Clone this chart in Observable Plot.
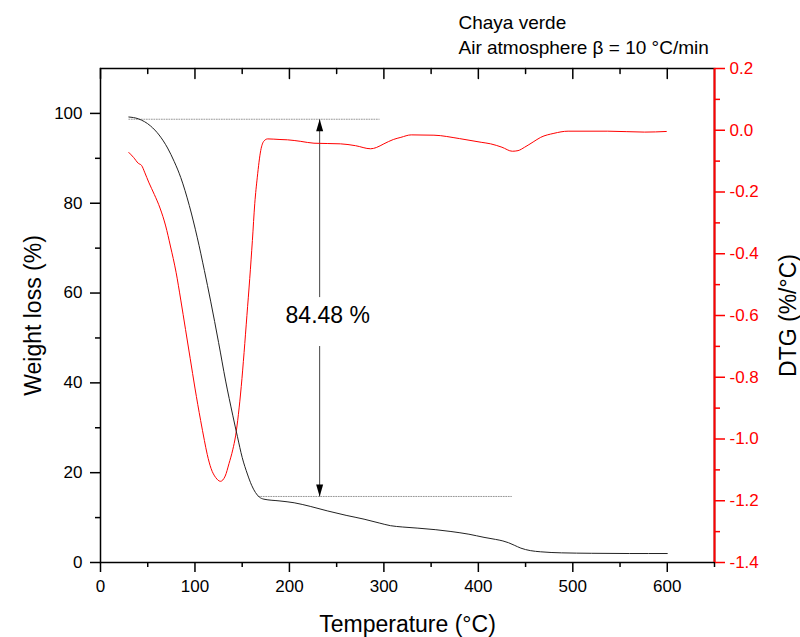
<!DOCTYPE html>
<html>
<head>
<meta charset="utf-8">
<script src="https://cdn.jsdelivr.net/npm/d3@7"></script>
<script src="https://cdn.jsdelivr.net/npm/@observablehq/plot@0.6"></script>
<style>
  html, body { margin: 0; padding: 0; background: #fff; }
  #chart svg { display: block; }
</style>
</head>
<body>
<div id="chart"></div>
<script>
// ---- Data ----
const titleLines = ["Chaya verde", "Air atmosphere \u03B2 = 10 \u00B0C/min"];
const xLabel = "Temperature (\u00B0C)";
const yLabel = "Weight loss (%)";
const y2Label = "DTG (%/\u00B0C)";

// TG curve (weight %, left axis)
const tgTemp   = [30, 40, 53, 62, 71, 78, 85, 94, 102.5, 110, 116.6, 125, 132.5, 140, 145, 150, 155.5, 160, 164, 168, 173, 190, 205, 222, 240, 260, 279, 295, 307, 320, 336, 355, 371, 390, 406, 418, 426, 432, 438, 445, 455, 466, 488, 520, 560, 600];
const tgWeight = [99.2, 98.8, 97.2, 95.2, 92.3, 89.3, 85.7, 79.5, 72.3, 65, 58.2, 49, 40.4, 32.8, 28, 23.4, 19.7, 17.2, 15.6, 14.6, 14.1, 13.7, 13.3, 12.5, 11.5, 10.5, 9.65, 8.8, 8.2, 7.9, 7.65, 7.3, 6.9, 6.3, 5.6, 5.15, 4.8, 4.4, 3.85, 3.2, 2.65, 2.38, 2.15, 2.05, 2.0, 2.0];

// DTG curve (%/°C, right axis)
const dtgTemp  = [30, 35, 40, 43.5, 47, 51, 57, 63, 69, 74, 80, 85, 90, 95, 100, 106, 110, 113, 117, 122, 127, 132, 136, 140, 143, 146, 149, 152, 155, 158, 160.8, 163.3, 166, 169.6, 173, 177, 190, 198, 212, 226, 254, 270, 286, 292, 300, 310, 318, 329, 353, 380, 403, 413, 425, 436, 442, 449, 458, 466, 480, 495, 537, 576, 599];
const dtgValue = [-0.072, -0.088, -0.107, -0.114, -0.138, -0.168, -0.208, -0.252, -0.31, -0.375, -0.46, -0.55, -0.645, -0.74, -0.835, -0.94, -1.005, -1.05, -1.095, -1.125, -1.137, -1.12, -1.08, -1.035, -0.99, -0.92, -0.83, -0.72, -0.6, -0.48, -0.357, -0.238, -0.152, -0.066, -0.035, -0.028, -0.03, -0.031, -0.036, -0.042, -0.044, -0.05, -0.06, -0.056, -0.044, -0.03, -0.023, -0.015, -0.016, -0.027, -0.039, -0.044, -0.055, -0.068, -0.066, -0.055, -0.038, -0.023, -0.01, -0.003, -0.003, -0.006, -0.004];

// Axis ticks
const xMajor = [0, 100, 200, 300, 400, 500, 600];
const xMinor = [50, 150, 250, 350, 450, 550, 650];
const yMajor = [0, 20, 40, 60, 80, 100];
const yMinor = [10, 30, 50, 70, 90];
const y2Major = [-1.4, -1.2, -1.0, -0.8, -0.6, -0.4, -0.2, 0.0, 0.2];
const y2Minor = [-1.3, -1.1, -0.9, -0.7, -0.5, -0.3, -0.1, 0.1];

// Annotation values
const massLossLabel = "84.48 %";
const arrowTemp = 232;
const levelTop = 98.7;
const levelBottom = 14.7;
const topGuideTemps = [30, 295];
const bottomGuideTemps = [167, 435];
const labelTemp = 240.6;
const labelWeight = 54.9;
const gapTop = 59.1;
const gapBottom = 48.2;

// ---- scales ----
const yDomain = [0, 110];
const y2Domain = [-1.4, 0.2];
const xDomain = [0, 650];
const toW = d => (d - y2Domain[0]) / (y2Domain[1] - y2Domain[0]) * (yDomain[1] - yDomain[0]) + yDomain[0];
const fromW = w => (w - yDomain[0]) / (yDomain[1] - yDomain[0]) * (y2Domain[1] - y2Domain[0]) + y2Domain[0];

const tg = tgTemp.map((t, i) => ({t, w: tgWeight[i]}));
const dtg = dtgTemp.map((t, i) => ({t, w: toW(dtgValue[i])}));

const arrowUp = {draw(ctx) { ctx.moveTo(0, 0); ctx.lineTo(-3.5, 12); ctx.lineTo(3.5, 12); ctx.closePath(); }};
const arrowDown = {draw(ctx) { ctx.moveTo(0, 0); ctx.lineTo(-3.5, -12); ctx.lineTo(3.5, -12); ctx.closePath(); }};
const tickShape = {draw(ctx, l) { ctx.moveTo(0, 0); ctx.lineTo(0, -l); }};

const font = "'Liberation Sans', Arial, sans-serif";

const chart = Plot.plot({
  width: 800,
  height: 637,
  marginLeft: 100,
  marginRight: 86,
  marginTop: 68,
  marginBottom: 75,
  style: {fontFamily: font, fontSize: "17px", background: "#fff", color: "black"},
  x: {domain: xDomain},
  y: {domain: yDomain},
  marks: [
    // guide dotted lines
    Plot.line(topGuideTemps.map(t => ({t, w: levelTop})), {x: "t", y: "w", stroke: "#999", strokeWidth: 1, strokeDasharray: "1,1.5"}),
    Plot.line(bottomGuideTemps.map(t => ({t, w: levelBottom})), {x: "t", y: "w", stroke: "#999", strokeWidth: 1, strokeDasharray: "1,1.5"}),
    // arrow shafts
    Plot.link([{t: arrowTemp, a: gapTop, b: levelTop}, {t: arrowTemp, a: gapBottom, b: levelBottom}], {x1: "t", x2: "t", y1: "a", y2: "b", stroke: "#444", strokeWidth: 1}),
    Plot.dot([{t: arrowTemp, w: levelTop}], {x: "t", y: "w", symbol: arrowUp, fill: "black", stroke: null}),
    Plot.dot([{t: arrowTemp, w: levelBottom}], {x: "t", y: "w", symbol: arrowDown, fill: "black", stroke: null}),
    Plot.text([massLossLabel], {x: () => labelTemp, y: () => labelWeight, text: d => d, fontSize: 23, textAnchor: "middle", lineAnchor: "middle", fill: "black"}),
    // curves
    Plot.line(dtg, {x: "t", y: "w", stroke: "#ff0000", strokeWidth: 1, curve: "monotone-x"}),
    Plot.line(tg, {x: "t", y: "w", stroke: "#222", strokeWidth: 1, curve: "monotone-x"}),
    // frame
    Plot.frame({stroke: "black", strokeWidth: 1.5}),
    Plot.ruleX([xDomain[1]], {stroke: "#ff0000", strokeWidth: 2}),
    // bottom axis
    Plot.axisX(xMajor, {anchor: "bottom", tickSize: 10, tickPadding: 7, fontSize: 17, label: null, strokeWidth: 1.5}),
    Plot.axisX(xMinor, {anchor: "bottom", tickSize: 5, fill: null, label: null, strokeWidth: 1.5}),
    // top axis (inward ticks)
    Plot.vector(xMajor, {x: d => d, frameAnchor: "top", length: 10, rotate: 180, anchor: "start", shape: tickShape, stroke: "black", strokeWidth: 1.5}),
    Plot.vector(xMinor.filter(d => d < xDomain[1]), {x: d => d, frameAnchor: "top", length: 5, rotate: 180, anchor: "start", shape: tickShape, stroke: "black", strokeWidth: 1.5}),
    // left axis
    Plot.axisY(yMajor, {anchor: "left", tickSize: 10, tickPadding: 8, fontSize: 17, label: null, strokeWidth: 1.5}),
    Plot.axisY(yMinor, {anchor: "left", tickSize: 5, fill: null, label: null, strokeWidth: 1.5}),
    // right axis (DTG)
    Plot.axisY(y2Major.map(toW), {anchor: "right", tickSize: 10, tickPadding: 5, fontSize: 17, label: null, color: "#ff0000", strokeWidth: 1.5,
      tickFormat: w => (Math.round(fromW(w) * 10) / 10).toFixed(1)}),
    Plot.axisY(y2Minor.map(toW), {anchor: "right", tickSize: 5, fill: null, label: null, color: "#ff0000", strokeWidth: 1.5}),
    // axis titles
    Plot.text([xLabel], {frameAnchor: "bottom", text: d => d, dy: 62, fontSize: 23, textAnchor: "middle", lineAnchor: "middle", fill: "black"}),
    Plot.text([yLabel], {frameAnchor: "left", text: d => d, dx: -67, rotate: -90, fontSize: 23, textAnchor: "middle", lineAnchor: "middle", fill: "black"}),
    Plot.text([y2Label], {frameAnchor: "right", text: d => d, dx: 74, rotate: -90, fontSize: 23, textAnchor: "middle", lineAnchor: "middle", fill: "black"}),
    // title lines
    Plot.text([titleLines[0]], {frameAnchor: "top-left", text: d => d, dx: 358, dy: -45.1, textAnchor: "start", lineAnchor: "middle", fontSize: 19, fill: "black"}),
    Plot.text([titleLines[1]], {frameAnchor: "top-left", text: d => d, dx: 358, dy: -20.8, textAnchor: "start", lineAnchor: "middle", fontSize: 19, fill: "black"})
  ]
});
document.getElementById("chart").appendChild(chart);
</script>
</body>
</html>
